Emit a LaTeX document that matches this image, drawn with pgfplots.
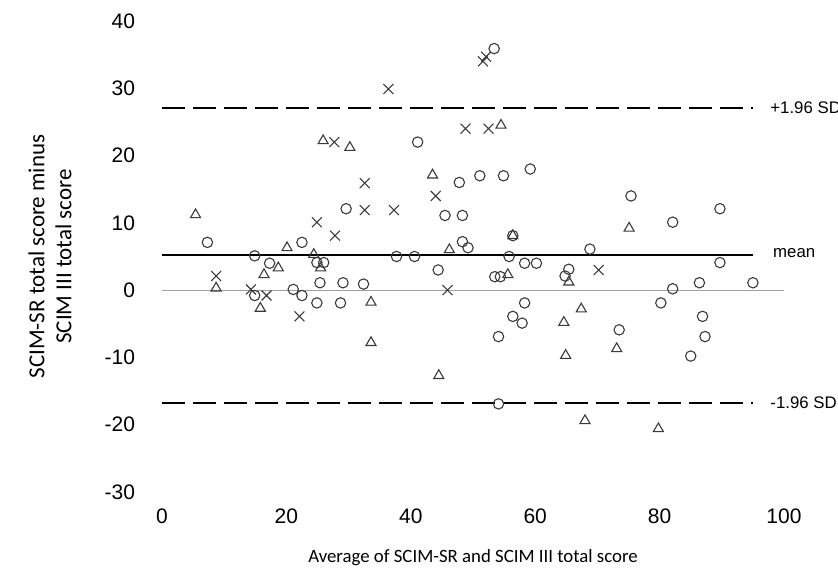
\documentclass[border=0pt]{standalone}
\usepackage{fontspec}
\setmainfont{Liberation Sans}
\newfontfamily\labelfont{Carlito}
\usepackage{pgfplots}
\pgfplotsset{compat=1.18}
\definecolor{mk}{HTML}{3A3A3A}
\definecolor{zeroline}{HTML}{A0A0A0}

% difference vs average, three groups of patients
\pgfplotstableread{
x y
7.3 7.1
14.9 5.1
17.3 4.0
22.5 7.1
24.9 4.1
26.0 4.1
14.9 -0.8
21.1 0.1
22.5 -0.8
25.4 1.1
29.1 1.1
24.9 -1.9
28.7 -1.9
29.6 12.1
32.4 0.9
53.4 35.9
41.1 22.0
47.8 16.0
51.1 17.0
54.9 17.0
59.2 18.0
45.5 11.1
48.3 11.1
56.4 8.1
48.3 7.2
49.2 6.3
37.7 5.0
40.6 5.0
44.4 3.0
55.8 5.0
58.3 4.0
60.2 4.0
53.5 2.0
54.4 2.0
58.3 -1.9
56.4 -3.9
57.9 -4.9
54.1 -6.9
54.1 -16.9
75.4 14.0
82.1 10.1
89.7 12.1
68.8 6.1
89.7 4.1
65.4 3.1
64.8 2.1
86.4 1.1
95.0 1.1
82.1 0.2
80.2 -1.9
86.9 -3.9
87.3 -6.9
85.0 -9.8
73.5 -5.9
}\circdata
\pgfplotstableread{
x y
25.9 22.2
30.2 21.2
5.4 11.2
20.1 6.3
24.4 5.3
18.7 3.3
16.4 2.3
25.5 3.3
8.7 0.3
15.8 -2.7
54.5 24.5
43.5 17.1
46.2 6.0
56.4 8.1
55.6 2.3
33.6 -1.8
33.6 -7.8
44.5 -12.7
75.1 9.2
65.4 1.2
67.4 -2.8
64.6 -4.8
64.9 -9.7
73.1 -8.7
68.0 -19.4
79.8 -20.6
}\tridata
\pgfplotstableread{
x y
27.7 22.0
24.9 10.1
27.8 8.1
8.7 2.1
14.3 0.1
16.8 -0.8
22.1 -3.9
36.4 29.9
51.6 34.0
52.1 34.7
48.8 24.0
52.5 24.0
32.6 15.9
32.6 11.9
37.3 11.9
44.0 14.0
45.9 0.0
70.2 3.0
}\crossdata

\begin{document}
\begin{tikzpicture}
\useasboundingbox (-81pt,-42.5pt) rectangle (338pt,246pt);
\begin{axis}[at={(0,0)},anchor=south west,scale only axis,
 width=311pt,height=235.5pt,xmin=0,xmax=100,ymin=-30,ymax=40,
 axis x line=bottom,axis y line=left,axis line style={draw=none},
 tick style={draw=none},major tick length=0pt,
 xtick={0,20,...,100},ytick={-30,-20,...,40},
 /pgf/number format/assume math mode=true,
 tick label style={font=\fontsize{10.5}{12}\selectfont},
 yticklabel style={xshift=-10pt},xticklabel style={yshift=-5pt},
 clip=false]
\addplot[zeroline,line width=0.5pt] coordinates {(0,0) (100,0)};
\addplot[black,line width=1pt,dash pattern=on 11.5pt off 4pt] coordinates {(0,27.1) (95,27.1)};
\addplot[black,line width=1pt] coordinates {(0,5.2) (95,5.2)};
\addplot[black,line width=1pt,dash pattern=on 11.5pt off 4pt] coordinates {(0,-16.8) (95,-16.8)};
\addplot[only marks,mark=o,mark size=2.6pt,mark options={mk,line width=0.55pt,fill=none}] table {\circdata};
\addplot[only marks,mark=triangle,mark size=2.9pt,mark options={mk,line width=0.55pt,fill=none}] table {\tridata};
\addplot[only marks,mark=x,mark size=3.5pt,mark options={mk,line width=0.55pt}] table {\crossdata};
\node[anchor=west,inner sep=0pt,font=\fontsize{8.4}{10}\selectfont] at (axis cs:97.75,27.1) {+1.96 SD};
\node[anchor=west,inner sep=0pt,font=\fontsize{8.4}{10}\selectfont] at (axis cs:98.2,5.5) {mean};
\node[anchor=west,inner sep=0pt,font=\fontsize{8.4}{10}\selectfont] at (axis cs:97.75,-16.8) {-1.96 SD};
\end{axis}
\node[rotate=90,align=center,font=\labelfont\fontsize{11.5}{13.5}\selectfont] at (-56pt,117.75pt) {SCIM-SR total score minus\\SCIM III total score};
\node[font=\labelfont\fontsize{9.4}{11}\selectfont] at (155.5pt,-33pt) {Average of SCIM-SR and SCIM III total score};
\end{tikzpicture}
\end{document}
